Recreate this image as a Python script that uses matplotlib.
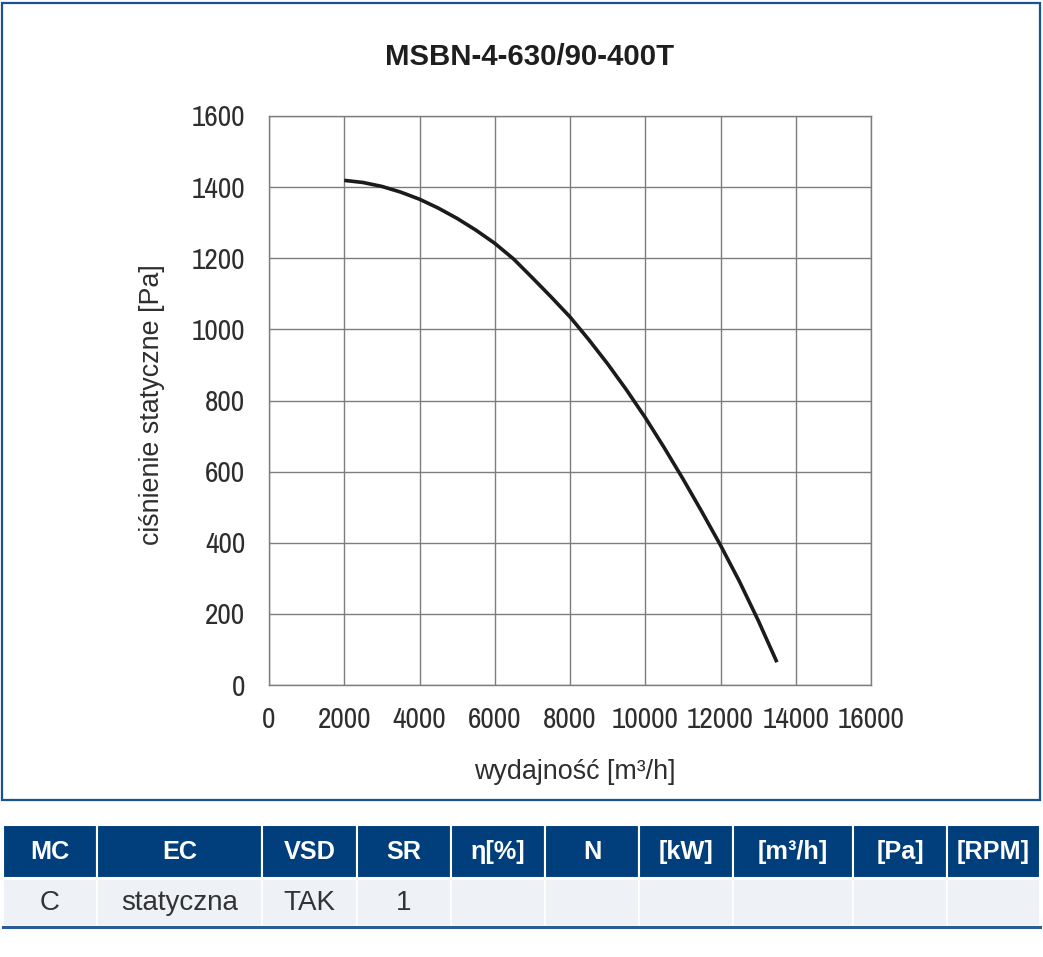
import numpy as np
import matplotlib
matplotlib.use('Agg')
import matplotlib.pyplot as plt
from matplotlib import font_manager as fm
from matplotlib.patches import Rectangle
from matplotlib.lines import Line2D

# curve
flow = [2000, 2500, 3000, 3500, 4000, 4500, 5000, 5500, 6000, 6500, 7000,
        7500, 8000, 8500, 9000, 9500, 10000, 10500, 11000, 11500, 12000,
        12500, 13000, 13500]
pressure = [1419, 1413, 1402, 1386, 1366, 1341, 1312, 1279, 1242, 1198, 1145,
            1091, 1035, 971, 903, 830, 752, 668, 580, 488, 393,
            292, 182, 64]

x_ticks = [0, 2000, 4000, 6000, 8000, 10000, 12000, 14000, 16000]
y_ticks = [0, 200, 400, 600, 800, 1000, 1200, 1400, 1600]

title = 'MSBN-4-630/90-400T'
x_label = 'wydajność [m³/h]'
y_label = 'ciśnienie statyczne [Pa]'

table_head = ['MC', 'EC', 'VSD', 'SR', 'η[%]', 'N', '[kW]', '[m³/h]', '[Pa]', '[RPM]']
table_row = ['C', 'statyczna', 'TAK', '1', '', '', '', '', '', '']
col_edges = [3, 97, 262, 357, 451, 545, 639, 733, 853, 947, 1040]

W, H = 1043, 957

names = {f.name for f in fm.fontManager.ttflist}
sans = 'Liberation Sans' if 'Liberation Sans' in names else 'DejaVu Sans'
# narrow face for the tick numbers
narrow = None
for f in fm.fontManager.ttflist:
    if 'condensed' in str(f.stretch).lower() or 'narrow' in f.name.lower():
        if narrow is None or 'narrow' in f.name.lower():
            narrow = f
if narrow is not None:
    tick_kw = dict(fontfamily=[narrow.name, 'DejaVu Sans'],
                   fontstretch=narrow.stretch, fontsize=23)
else:
    tick_kw = dict(fontsize=17)
plt.rcParams['font.family'] = [sans, 'DejaVu Sans']


def fx(x):
    return x / W


def fy(y):
    return 1 - y / H


fig = plt.figure(figsize=(W / 100, H / 100), dpi=100)

# outer frame of the chart
fig.add_artist(Rectangle((fx(2), fy(800)), fx(1040) - fx(2), fy(3) - fy(800),
                         transform=fig.transFigure, fill=False,
                         edgecolor='#1b5190', lw=1.6))

ax = fig.add_axes([fx(269), fy(685), fx(871) - fx(269), fy(116) - fy(685)])
grid_col = '#7d7d7d'
txt_col = '#2e2e2e'
ax.plot(flow, pressure, color='#1c1a1b', lw=2.6, solid_capstyle='butt', zorder=3)
ax.set_xlim(0, 16000)
ax.set_ylim(0, 1600)
ax.set_xticks(x_ticks, labels=[str(v) for v in x_ticks], **tick_kw)
ax.set_yticks(y_ticks, labels=[str(v) for v in y_ticks], **tick_kw)
ax.grid(True, color=grid_col, lw=1.0)
for sp in ax.spines.values():
    sp.set_color(grid_col)
    sp.set_linewidth(1.0)
ax.tick_params(length=0, labelcolor=txt_col)
ax.tick_params(axis='x', pad=16)
ax.tick_params(axis='y', pad=17)

ax.set_xlabel(x_label, fontsize=19.4, color=txt_col, va='center')
ax.xaxis.set_label_coords((575 - 269) / 602, (685 - 772) / 569)
ax.set_ylabel(y_label, fontsize=19.4, color=txt_col, va='center')
ax.yaxis.set_label_coords((152 - 269) / 602, (685 - 405) / 569)

fig.text(fx(530), fy(57), title, ha='center', va='center', fontsize=21.2,
         fontweight='bold', color='#1e1e1e')

# parameter table below the chart
head_col = '#003f7b'
row_col = '#eef1f6'
for i, (h, v) in enumerate(zip(table_head, table_row)):
    x0, x1 = col_edges[i], col_edges[i + 1]
    fig.add_artist(Rectangle((fx(x0), fy(878)), fx(x1) - fx(x0), fy(825) - fy(878),
                             transform=fig.transFigure, facecolor=head_col,
                             edgecolor='white', lw=1.5))
    fig.add_artist(Rectangle((fx(x0), fy(926)), fx(x1) - fx(x0), fy(879) - fy(926),
                             transform=fig.transFigure, facecolor=row_col,
                             edgecolor='white', lw=1.2))
    xc = fx((x0 + x1) / 2)
    fig.text(xc, fy(852), h, ha='center', va='center', color='white',
             fontsize=18.2, fontweight='bold')
    if v:
        fig.text(xc, fy(903), v, ha='center', va='center', color='#333333',
                 fontsize=20)

fig.add_artist(Line2D([fx(3), fx(1040)], [fy(927), fy(927)],
                      transform=fig.transFigure, color='#2a5c95', lw=2.2))

fig.savefig('out.png', dpi=100)
